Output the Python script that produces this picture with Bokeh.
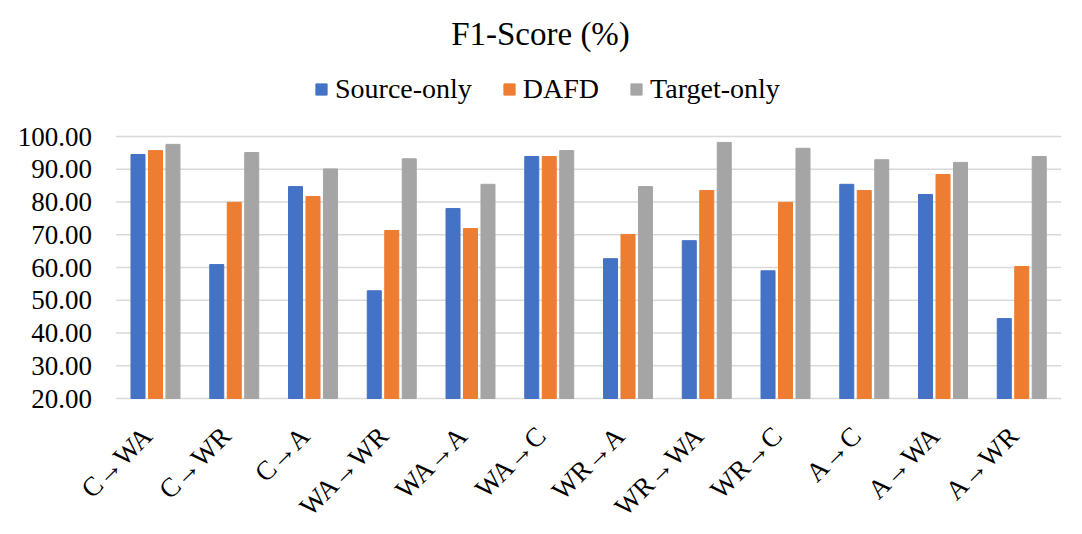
import math
from bokeh.plotting import figure
from bokeh.models import (ColumnDataSource, Range1d, Legend, LegendItem, Label, LabelSet)
from bokeh.transform import dodge
from bokeh.embed import file_html
from bokeh.resources import INLINE

categories = ["C→WA", "C→WR", "C→A", "WA→WR", "WA→A", "WA→C",
              "WR→A", "WR→WA", "WR→C", "A→C", "A→WA", "A→WR"]
source_only = [94.5, 60.9, 84.7, 52.9, 78.0, 93.9, 62.7, 68.2, 59.0, 85.4, 82.3, 44.4]
dafd = [95.7, 79.9, 81.7, 71.3, 71.9, 93.9, 70.1, 83.5, 79.9, 83.5, 88.4, 60.3]
target_only = [97.6, 95.1, 90.1, 93.2, 85.4, 95.7, 84.7, 98.2, 96.4, 92.9, 92.1, 93.9]
y_ticks = [20, 30, 40, 50, 60, 70, 80, 90, 100]
y_tick_labels = ["%.2f" % v for v in y_ticks]
baseline = y_ticks[0]

FONT = "'Liberation Serif', 'Times New Roman', serif"
n = len(categories)

src = ColumnDataSource(dict(idx=list(range(n)), cat=categories, s=source_only,
                            d=dafd, t=target_only, base=[baseline] * n))
tick_src = ColumnDataSource(dict(y=y_ticks, lab=y_tick_labels,
                                 x0=[-0.5] * len(y_ticks), x1=[n - 0.5] * len(y_ticks)))

# The frame covers the whole canvas; the ranges reach beyond the data area so that
# the title, legend, tick labels and rotated category labels live inside it.
p = figure(x_range=Range1d(-1.968, 11.568), y_range=Range1d(-19.08, 141.53),
           width=1066, height=526, output_backend="svg", toolbar_location=None,
           min_border_left=0, min_border_right=0, min_border_top=0,
           min_border_bottom=0)
p.xaxis.visible = False
p.yaxis.visible = False
p.xgrid.visible = False
p.ygrid.visible = False
p.outline_line_color = None

# horizontal gridlines (the one at 20 doubles as the category axis line)
p.segment(x0="x0", x1="x1", y0="y", y1="y", source=tick_src,
          line_color="#D9D9D9", line_width=1.3)

w = 0.178
r1 = p.vbar(x=dodge("idx", -0.222), top="s", bottom=baseline, width=w,
            source=src, color="#4472C4")
r2 = p.vbar(x=dodge("idx", 0.0), top="d", bottom=baseline, width=w,
            source=src, color="#ED7D31")
r3 = p.vbar(x=dodge("idx", 0.222), top="t", bottom=baseline, width=w,
            source=src, color="#A5A5A5")

# y tick labels
p.add_layout(LabelSet(x="x0", y="y", text="lab", source=tick_src, x_offset=-24,
                      text_align="right", text_baseline="middle", text_font=FONT,
                      text_font_size="27px", text_color="#000000"))

# category labels, rotated 45 degrees, ending under each group
p.add_layout(LabelSet(x="idx", y="base", text="cat", source=src, angle=math.pi / 4,
                      text_align="right", text_baseline="middle", x_offset=-8,
                      y_offset=-33, text_font=FONT, text_font_size="27px",
                      text_color="#000000"))

p.add_layout(Label(x=540, y=493, x_units="screen", y_units="screen",
                   text="F1-Score (%)", text_font=FONT, text_font_size="33px",
                   text_align="center", text_baseline="middle", text_color="#000000"))

legend = Legend(items=[LegendItem(label="Source-only", renderers=[r1]),
                       LegendItem(label="DAFD", renderers=[r2]),
                       LegendItem(label="Target-only", renderers=[r3])],
                orientation="horizontal", location=(314, 421),
                label_text_font=FONT, label_text_font_size="28px",
                label_text_color="#000000", glyph_width=14, glyph_height=14,
                label_standoff=7, spacing=30, padding=0, margin=0,
                border_line_color=None, background_fill_alpha=0)
p.add_layout(legend, "center")

open("out.html", "w").write(file_html(p, INLINE))
